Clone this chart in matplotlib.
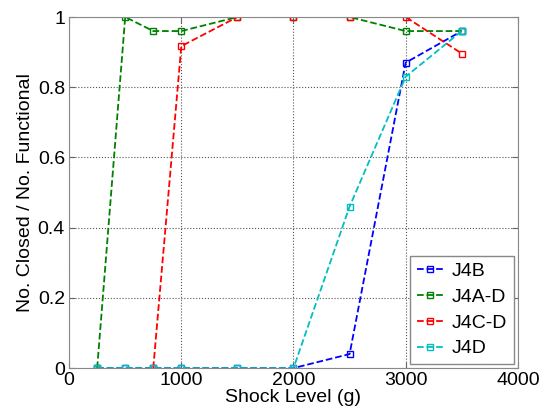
import matplotlib
matplotlib.use("Agg")
import matplotlib.pyplot as plt

plt.rcParams['font.family'] = ['Liberation Sans', 'DejaVu Sans']

# Shock levels (g) and fraction closed per device group
shock_j4b = [250, 500, 750, 1000, 1500, 2000, 2500, 3000, 3500]
frac_j4b = [0, 0, 0, 0, 0, 0, 0.04, 0.87, 0.96]

shock_j4ad = [250, 500, 750, 1000, 1500, 2000, 2500, 3000, 3500]
frac_j4ad = [0, 1.0, 0.96, 0.96, 1.0, 1.0, 1.0, 0.96, 0.96]

shock_j4cd = [750, 1000, 1500, 2000, 2500, 3000, 3500]
frac_j4cd = [0, 0.917, 1.0, 1.0, 1.0, 1.0, 0.896]

shock_j4d = [250, 500, 750, 1000, 1500, 2000, 2500, 3000, 3500]
frac_j4d = [0, 0, 0, 0, 0, 0, 0.46, 0.83, 0.96]

labels = ['J4B', 'J4A-D', 'J4C-D', 'J4D']
colors = ['#0000ff', '#008000', '#ff0000', '#00bfbf']

fig = plt.figure(figsize=(5.4, 4.15), dpi=100)
ax = fig.add_axes([0.128, 0.113, 0.831, 0.846])

series = [(shock_j4b, frac_j4b), (shock_j4ad, frac_j4ad),
          (shock_j4cd, frac_j4cd), (shock_j4d, frac_j4d)]
for (x, y), lab, c in zip(series, labels, colors):
    ax.plot(x, y, linestyle='--', color=c, marker='s', markersize=4.5,
            markerfacecolor='none', markeredgewidth=1.0, linewidth=1.3,
            label=lab)

ax.set_xlim(0, 4000)
ax.set_ylim(0, 1)
ax.set_xticks([0, 1000, 2000, 3000, 4000])
ax.set_yticks([0, 0.2, 0.4, 0.6, 0.8, 1])
ax.set_yticklabels(['0', '0.2', '0.4', '0.6', '0.8', '1'])
ax.grid(True, linestyle=':', color='#555555', linewidth=0.8)
ax.tick_params(direction='in', labelsize=14, length=4, color='#666666',
               top=True, right=True, pad=3)
for s in ax.spines.values():
    s.set_color('#888888')

ax.set_xlabel('Shock Level (g)', fontsize=14, labelpad=0)
ax.set_ylabel('No. Closed / No. Functional', fontsize=14, labelpad=3)

leg = ax.legend(loc='lower right', fontsize=14, fancybox=False,
                framealpha=1, edgecolor='#888888', handlelength=1.4,
                handletextpad=0.4, borderaxespad=0.2, labelspacing=0.42,
                borderpad=0.35)

fig.savefig('out.png', dpi=100)
